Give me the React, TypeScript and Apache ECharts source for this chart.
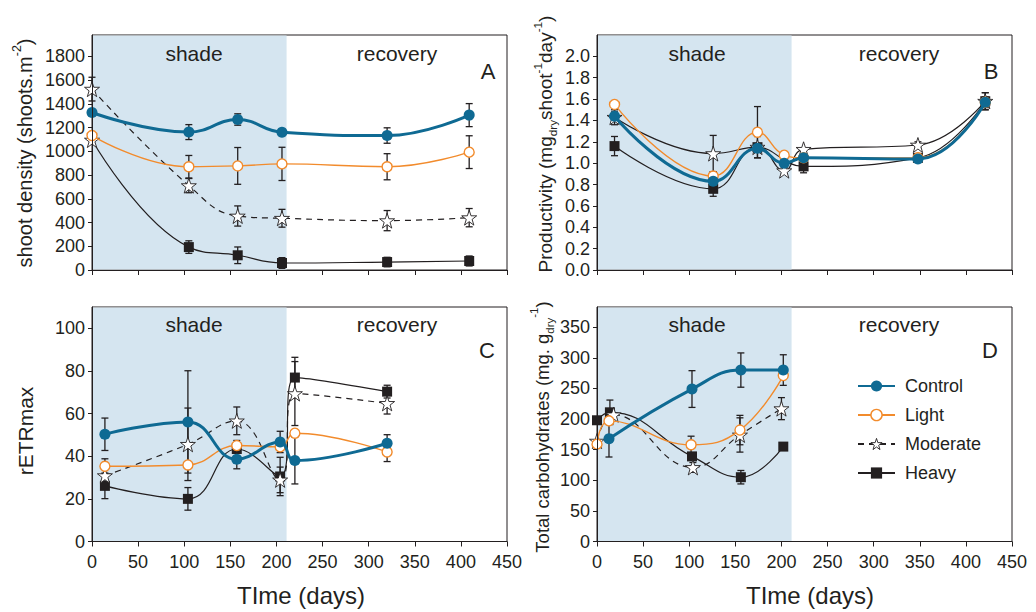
import { useEffect, useRef } from "react";
import * as echarts from "echarts";

const FONT = '"Liberation Sans", Arial, Helvetica, sans-serif';
const INK = "#231f20";
const BLUE = "#0f6a93";
const ORANGE = "#f28b2c";
const SHADE = "#d5e5f0";
const STAR =
  "path://M50,2 L61.5,36 L97.5,36 L68.5,57.5 L79.5,92 L50,71 L20.5,92 L31.5,57.5 L2.5,36 L38.5,36 Z";

// End of the shading period (days)
const SHADE_END = 211;
const X_TICKS = [0, 50, 100, 150, 200, 250, 300, 350, 400, 450];

// A: shoot density
const daysA = [0, 105, 158, 206, 320, 409];
const controlA = [1327, 1162, 1268, 1160, 1133, 1305];
const controlErrA = [0, 63, 48, 0, 65, 97];
const lightA = [1133, 870, 877, 894, 870, 993];
const lightErrA = [0, 95, 155, 140, 110, 138];
const moderateA = [1524, 711, 455, 436, 416, 441];
const moderateErrA = [100, 60, 85, 75, 85, 77];
const heavyA = [1095, 193, 124, 59, 67, 76];
const heavyErrA = [0, 53, 70, 45, 40, 42];
const ticksA = [0, 200, 400, 600, 800, 1000, 1200, 1400, 1600, 1800];

// B: productivity
const daysB = [19, 126, 174, 203, 224, 348, 421];
const controlB = [1.44, 0.83, 1.14, 1.0, 1.05, 1.04, 1.57];
const controlErrB = [0.04, 0.03, 0, 0, 0, 0.03, 0.05];
const lightB = [1.55, 0.88, 1.29, 1.075, 1.05, 1.05, 1.57];
const lightErrB = [0, 0.04, 0.24, 0, 0, 0, 0];
const moderateB = [1.43, 1.09, 1.15, 0.93, 1.13, 1.17, 1.58];
const moderateErrB = [0.07, 0.17, 0, 0.03, 0, 0.03, 0.08];
const daysHeavyB = [19, 126, 174, 224, 348, 421];
const heavyB = [1.16, 0.76, 1.15, 0.97, 1.05, 1.58];
const heavyErrB = [0.09, 0.07, 0.1, 0.06, 0.03, 0.08];
const ticksB = [0, 0.2, 0.4, 0.6, 0.8, 1.0, 1.2, 1.4, 1.6, 1.8, 2.0];

// C: rETRmax
const daysC = [14, 104, 157, 204, 220, 320];
const controlC = [50.3, 56.1, 38.6, 46.7, 38, 46.1];
const controlErrC = [7.6, 24, 4.5, 5, 11, 4];
const lightC = [35.3, 35.9, 45, 44.4, 50.8, 42];
const lightErrC = [3.5, 0, 0, 0, 0, 4.5];
const moderateC = [30.9, 45.6, 56.6, 28.9, 69.4, 64.8];
const moderateErrC = [0, 17, 6.5, 6, 15, 5];
const heavyC = [26.1, 20, 43.4, 30.5, 76.9, 70.3];
const heavyErrC = [6, 5.3, 4, 9, 9.5, 3];
const ticksC = [0, 20, 40, 60, 80, 100];

// D: total carbohydrates
const daysControlD = [13, 103, 156, 202];
const controlD = [168, 249, 280, 280];
const controlErrD = [30, 30, 28, 25];
const daysLightD = [0, 13, 102, 155, 202];
const lightD = [159, 197, 158, 182, 271];
const lightErrD = [0, 0, 14, 24, 0];
const daysModerateD = [0, 18, 104, 155, 200];
const moderateD = [164, 207, 121, 174, 217];
const moderateErrD = [0, 0, 8, 28, 18];
const daysHeavyD = [0, 14, 103, 156, 202];
const heavyD = [198, 211, 139, 105, 155];
const heavyErrD = [0, 20, 0, 11, 0];
const ticksD = [0, 50, 100, 150, 200, 250, 300, 350];

const GRIDS = [
  { left: 92, top: 35, width: 415, height: 235 },
  { left: 597, top: 35, width: 415, height: 235 },
  { left: 92, top: 307, width: 415, height: 234.5 },
  { left: 597, top: 307, width: 415, height: 234.5 },
];

type Style = "control" | "light" | "moderate" | "heavy";

const NAMES: Record<Style, string> = {
  control: "Control",
  light: "Light",
  moderate: "Moderate",
  heavy: "Heavy",
};

const SMOOTH = 0.45;

function lineSeries(
  kind: Style,
  idx: number,
  days: number[],
  vals: number[],
  dashed = kind === "moderate"
) {
  const base: any = {
    type: "line",
    name: NAMES[kind],
    xAxisIndex: idx,
    yAxisIndex: idx,
    smooth: SMOOTH,
    data: days.map((d, i) => [d, vals[i]]),
    emphasis: { disabled: true },
  };
  if (kind === "control") {
    Object.assign(base, {
      z: 6,
      symbol: "circle",
      symbolSize: 11,
      itemStyle: { color: BLUE, borderColor: BLUE, borderWidth: 0 },
      lineStyle: { color: BLUE, width: 3 },
    });
  } else if (kind === "light") {
    Object.assign(base, {
      z: 5,
      symbol: "circle",
      symbolSize: 10,
      itemStyle: { color: "#ffffff", borderColor: ORANGE, borderWidth: 1.4 },
      lineStyle: { color: ORANGE, width: 1.4 },
    });
  } else if (kind === "moderate") {
    Object.assign(base, {
      z: 4,
      symbol: STAR,
      symbolSize: 15,
      itemStyle: { color: "#ffffff", borderColor: INK, borderWidth: 0.9 },
      lineStyle: { color: INK, width: 1.2, type: dashed ? [6, 5] : "solid" },
    });
  } else {
    Object.assign(base, {
      z: 3,
      symbol: "rect",
      symbolSize: 10,
      itemStyle: { color: INK, borderColor: INK, borderWidth: 0 },
      lineStyle: { color: INK, width: 1.2 },
    });
  }
  return base;
}

function errorSeries(idx: number, days: number[], vals: number[], errs: number[]) {
  return {
    type: "custom",
    xAxisIndex: idx,
    yAxisIndex: idx,
    silent: true,
    z: 2,
    encode: { x: 0, y: 1 },
    data: days.map((d, i) => [d, vals[i], errs[i]]).filter((r) => r[2] > 0),
    renderItem: (_p: any, api: any) => {
      const x = api.value(0);
      const y = api.value(1);
      const e = api.value(2);
      const hi = api.coord([x, y + e]);
      const lo = api.coord([x, y - e]);
      const w = 3.5;
      const st = { stroke: INK, lineWidth: 1.3 };
      return {
        type: "group",
        children: [
          { type: "line", shape: { x1: hi[0], y1: hi[1], x2: lo[0], y2: lo[1] }, style: st },
          { type: "line", shape: { x1: hi[0] - w, y1: hi[1], x2: hi[0] + w, y2: hi[1] }, style: st },
          { type: "line", shape: { x1: lo[0] - w, y1: lo[1], x2: lo[0] + w, y2: lo[1] }, style: st },
        ],
      };
    },
  };
}

function shadeSeries(idx: number, yMin: number, yMax: number) {
  return {
    type: "custom",
    xAxisIndex: idx,
    yAxisIndex: idx,
    silent: true,
    z: 1,
    encode: { x: [0, 2], y: [1, 3] },
    data: [[0, yMin, SHADE_END, yMax]],
    renderItem: (_p: any, api: any) => {
      const a = api.coord([api.value(0), api.value(3)]);
      const b = api.coord([api.value(2), api.value(1)]);
      return {
        type: "rect",
        shape: { x: a[0] + 0.5, y: a[1] + 0.5, width: b[0] - a[0] - 0.5, height: b[1] - a[1] - 1 },
        style: { fill: SHADE },
      };
    },
  };
}

const Y_AXES = [
  { min: 0, max: 1980, ticks: ticksA, fmt: (v: number) => String(v) },
  { min: 0, max: 2.2, ticks: ticksB, fmt: (v: number) => v.toFixed(1) },
  { min: 0, max: 110, ticks: ticksC, fmt: (v: number) => String(v) },
  { min: 0, max: 383, ticks: ticksD, fmt: (v: number) => String(v) },
];

function txt(text: string, x: number, y: number, size: number, rotation = 0) {
  return {
    type: "text",
    x,
    y,
    z: 100,
    rotation,
    silent: true,
    style: {
      text,
      fontFamily: FONT,
      fontSize: size,
      fill: INK,
      align: "center",
      verticalAlign: "middle",
    },
  };
}

function richTitle(text: string, x: number, y: number, size: number) {
  return {
    type: "text",
    x,
    y,
    z: 100,
    rotation: Math.PI / 2,
    silent: true,
    style: {
      text,
      fontFamily: FONT,
      fontSize: size,
      fill: INK,
      align: "center",
      verticalAlign: "middle",
      rich: {
        n: { fontFamily: FONT, fontSize: size, fill: INK, lineHeight: size + 8, verticalAlign: "middle" },
        sup: { fontFamily: FONT, fontSize: size * 0.62, fill: INK, lineHeight: size + 8, verticalAlign: "top" },
        sub: { fontFamily: FONT, fontSize: size * 0.62, fill: INK, lineHeight: size + 8, verticalAlign: "bottom" },
      },
    },
  };
}

export default function App() {
  const ref = useRef<HTMLDivElement>(null);

  useEffect(() => {
    if (!ref.current) return;
    const chart = echarts.init(ref.current, null, { renderer: "svg" });

    const series: any[] = [];
    [0, 1, 2, 3].forEach((i) => series.push(shadeSeries(i, Y_AXES[i].min, Y_AXES[i].max)));

    // A
    series.push(
      errorSeries(0, daysA, controlA, controlErrA),
      errorSeries(0, daysA, lightA, lightErrA),
      errorSeries(0, daysA, moderateA, moderateErrA),
      errorSeries(0, daysA, heavyA, heavyErrA)
    );
    const heavyLineA = lineSeries("heavy", 0, daysA, heavyA);
    heavyLineA.data[0] = {
      value: heavyLineA.data[0],
      symbol: STAR,
      symbolSize: 15,
      itemStyle: { color: "#ffffff", borderColor: INK, borderWidth: 0.9 },
    };
    series.push(
      heavyLineA,
      lineSeries("moderate", 0, daysA, moderateA),
      lineSeries("light", 0, daysA, lightA),
      lineSeries("control", 0, daysA, controlA)
    );

    // B
    series.push(
      errorSeries(1, daysB, controlB, controlErrB),
      errorSeries(1, daysB, lightB, lightErrB),
      errorSeries(1, daysB, moderateB, moderateErrB),
      errorSeries(1, daysHeavyB, heavyB, heavyErrB),
      lineSeries("heavy", 1, daysHeavyB, heavyB),
      lineSeries("moderate", 1, daysB, moderateB, false),
      lineSeries("light", 1, daysB, lightB),
      lineSeries("control", 1, daysB, controlB)
    );

    // C
    series.push(
      errorSeries(2, daysC, controlC, controlErrC),
      errorSeries(2, daysC, lightC, lightErrC),
      errorSeries(2, daysC, moderateC, moderateErrC),
      errorSeries(2, daysC, heavyC, heavyErrC),
      lineSeries("heavy", 2, daysC, heavyC),
      lineSeries("moderate", 2, daysC, moderateC),
      lineSeries("light", 2, daysC, lightC),
      lineSeries("control", 2, daysC, controlC)
    );

    // D
    series.push(
      errorSeries(3, daysControlD, controlD, controlErrD),
      errorSeries(3, daysLightD, lightD, lightErrD),
      errorSeries(3, daysModerateD, moderateD, moderateErrD),
      errorSeries(3, daysHeavyD, heavyD, heavyErrD),
      lineSeries("heavy", 3, daysHeavyD, heavyD),
      lineSeries("moderate", 3, daysModerateD, moderateD),
      lineSeries("light", 3, daysLightD, lightD),
      lineSeries("control", 3, daysControlD, controlD)
    );

    const xAxis = GRIDS.map((_, i) => ({
      type: "value",
      gridIndex: i,
      min: 0,
      max: 450,
      interval: 50,
      z: 10,
      axisLine: { show: true, lineStyle: { color: INK, width: 1 } },
      axisTick: { show: true, inside: false, length: 5, lineStyle: { color: INK }, customValues: X_TICKS },
      axisLabel: {
        show: i >= 2,
        customValues: X_TICKS,
        fontFamily: FONT,
        fontSize: 18,
        color: INK,
        margin: 11,
      },
      splitLine: { show: false },
    }));

    const yAxis = Y_AXES.map((a, i) => ({
      type: "value",
      gridIndex: i,
      min: a.min,
      max: a.max,
      z: 10,
      axisLine: { show: true, lineStyle: { color: INK, width: 1 } },
      axisTick: { show: true, inside: false, length: 4, lineStyle: { color: INK }, customValues: a.ticks },
      axisLabel: {
        customValues: a.ticks,
        formatter: a.fmt,
        fontFamily: FONT,
        fontSize: 18,
        color: INK,
        margin: 7,
      },
      splitLine: { show: false },
    }));

    const graphic: any[] = [
      // period labels
      txt("shade", 194, 53, 21),
      txt("recovery", 397, 53, 21),
      txt("shade", 697, 53, 21),
      txt("recovery", 899, 53, 21),
      txt("shade", 194, 324, 21),
      txt("recovery", 397, 324, 21),
      txt("shade", 697, 324, 21),
      txt("recovery", 899, 324, 21),
      // panel letters
      txt("A", 488, 71, 22),
      txt("B", 991, 71, 22),
      txt("C", 487, 350, 22),
      txt("D", 990, 350, 22),
      // axis titles
      richTitle("{n|shoot density (shoots.m}{sup|-2}{n|)}", 25, 153, 20),
      richTitle("{n|Productivity (mg}{sub|dry}{n|shoot}{sup|-1}{n|day}{sup|-1}{n|)}", 545, 144, 19),
      txt("rETRmax", 25, 431, 21, Math.PI / 2),
      richTitle("{n|Total carbohydrates (mg. g}{sub|dry}{sup|-1}{n|)}", 542, 427, 18.5),
      txt("TIme (days)", 301, 595, 24),
      txt("TIme (days)", 810, 595, 24),
    ];

    const legendStyles: Record<string, any> = {
      Control: { color: BLUE, borderColor: BLUE, borderWidth: 0 },
      Light: { color: "#ffffff", borderColor: ORANGE, borderWidth: 1.4 },
      Moderate: { color: "#ffffff", borderColor: INK, borderWidth: 0.9 },
      Heavy: { color: INK, borderColor: INK, borderWidth: 0 },
    };

    chart.setOption({
      animation: false,
      grid: GRIDS.map((g) => ({
        ...g,
        show: true,
        borderColor: INK,
        borderWidth: 1,
        backgroundColor: "transparent",
        containLabel: false,
      })),
      xAxis,
      yAxis,
      legend: {
        data: Object.values(NAMES).map((n) => ({ name: n, itemStyle: legendStyles[n] })),
        orient: "vertical",
        left: 852,
        top: 372,
        itemWidth: 37,
        itemHeight: 14,
        itemGap: 11,
        selectedMode: false,
        textStyle: { fontFamily: FONT, fontSize: 18, color: INK, padding: [0, 0, 0, 5] },
      },
      graphic,
      series,
    });

    return () => chart.dispose();
  }, []);

  return (
    <div
      ref={ref}
      style={{ position: "absolute", left: 0, top: 0, width: 1036, height: 612, background: "#ffffff" }}
    />
  );
}
